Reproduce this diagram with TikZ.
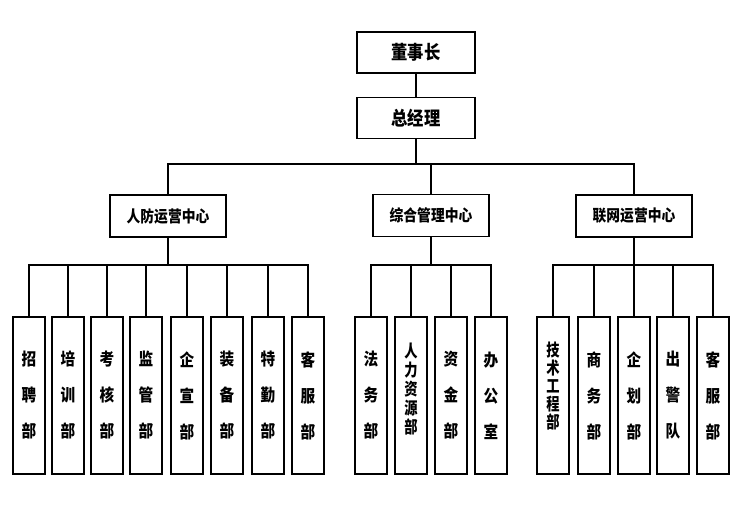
\documentclass[tikz,border=0pt]{standalone}
\usepackage{fontspec}
\newfontfamily\cjk{Noto Sans CJK SC}[FakeStretch=0.86]
\newfontfamily\cjknarrow{Noto Sans CJK SC}[FakeStretch=0.78]
\tikzset{
  box/.style={draw=black, line width=1.6pt, fill=white, inner sep=0pt, font=\cjk\bfseries},
  topbox/.style={box, minimum width=118pt, minimum height=41pt, font=\cjk\bfseries\fontsize{19pt}{21pt}\selectfont},
  midbox/.style={box, minimum width=116pt, minimum height=42pt, font=\cjk\bfseries\fontsize{16pt}{18pt}\selectfont},
  subbox/.style={box, minimum width=32pt, minimum height=157pt, align=center},
  three/.style={subbox, font=\cjk\bfseries\fontsize{17pt}{36pt}\selectfont},
  five/.style={subbox, font=\cjknarrow\bfseries\fontsize{17pt}{19pt}\selectfont},
  link/.style={draw=black, line width=1.6pt}
}
\begin{document}
\begin{tikzpicture}[x=1pt,y=-1pt]
\useasboundingbox (0,0) rectangle (742,508);
\node[topbox] (ceo) at (416,52.5) {董事长};
\node[topbox] (gm) at (416,118) {总经理};
\node[midbox] (c1) at (168,216) {人防运营中心};
\node[midbox] (c2) at (431,215.5) {综合管理中心};
\node[midbox] (c3) at (634,216) {联网运营中心};
% left group
\node[three] (l1) at (29,395.5) {招\\聘\\部};
\node[three] (l2) at (68,395.5) {培\\训\\部};
\node[three] (l3) at (107,395.5) {考\\核\\部};
\node[three] (l4) at (146,395.5) {监\\管\\部};
\node[three] (l5) at (187,395.5) {企\\宣\\部};
\node[three] (l6) at (227,395.5) {装\\备\\部};
\node[three] (l7) at (268,395.5) {特\\勤\\部};
\node[three] (l8) at (308,395.5) {客\\服\\部};
% middle group
\node[three] (m1) at (371,395.5) {法\\务\\部};
\node[five] (m2) at (411,395.5) {};
\node[font=\cjknarrow\bfseries\fontsize{17pt}{19pt}\selectfont, align=center, inner sep=0pt] (m2t) at (411,389.5) {人\\力\\资\\源\\部};
\node[three] (m3) at (451,395.5) {资\\金\\部};
\node[three] (m4) at (491,395.5) {办\\公\\室};
% right group
\node[five] (r1) at (553,395.5) {};
\node[font=\cjknarrow\bfseries\fontsize{17pt}{18pt}\selectfont, align=center, inner sep=0pt] (r1t) at (553,386.5) {技\\术\\工\\程\\部};
\node[three] (r2) at (594,395.5) {商\\务\\部};
\node[three] (r3) at (634,395.5) {企\\划\\部};
\node[three] (r4) at (673,395.5) {出\\警\\队};
\node[three] (r5) at (713,395.5) {客\\服\\部};
% bus coordinates
\coordinate (b0) at (416,164);
\coordinate (b1) at (168,265);
\coordinate (b2) at (431,265);
\coordinate (b3) at (634,265);
% connectors
\draw[link] (ceo) -- (gm);
\draw[link] (gm) -- (b0);
\draw[link] (c1.north) |- (b0) -| (c3.north);
\draw[link] (c2.north) -- (c2.north |- b0);
\draw[link] (c1) -- (b1);
\draw[link] (c2) -- (b2);
\draw[link] (c3) -- (b3);
\draw[link] (l1.north) |- (b1) -| (l8.north);
\foreach \n in {l2,l3,l4,l5,l6,l7} \draw[link] (\n.north) -- (\n.north |- b1);
\draw[link] (m1.north) |- (b2) -| (m4.north);
\foreach \n in {m2,m3} \draw[link] (\n.north) -- (\n.north |- b2);
\draw[link] (r1.north) |- (b3) -| (r5.north);
\foreach \n in {r2,r3,r4} \draw[link] (\n.north) -- (\n.north |- b3);
\end{tikzpicture}
\end{document}
